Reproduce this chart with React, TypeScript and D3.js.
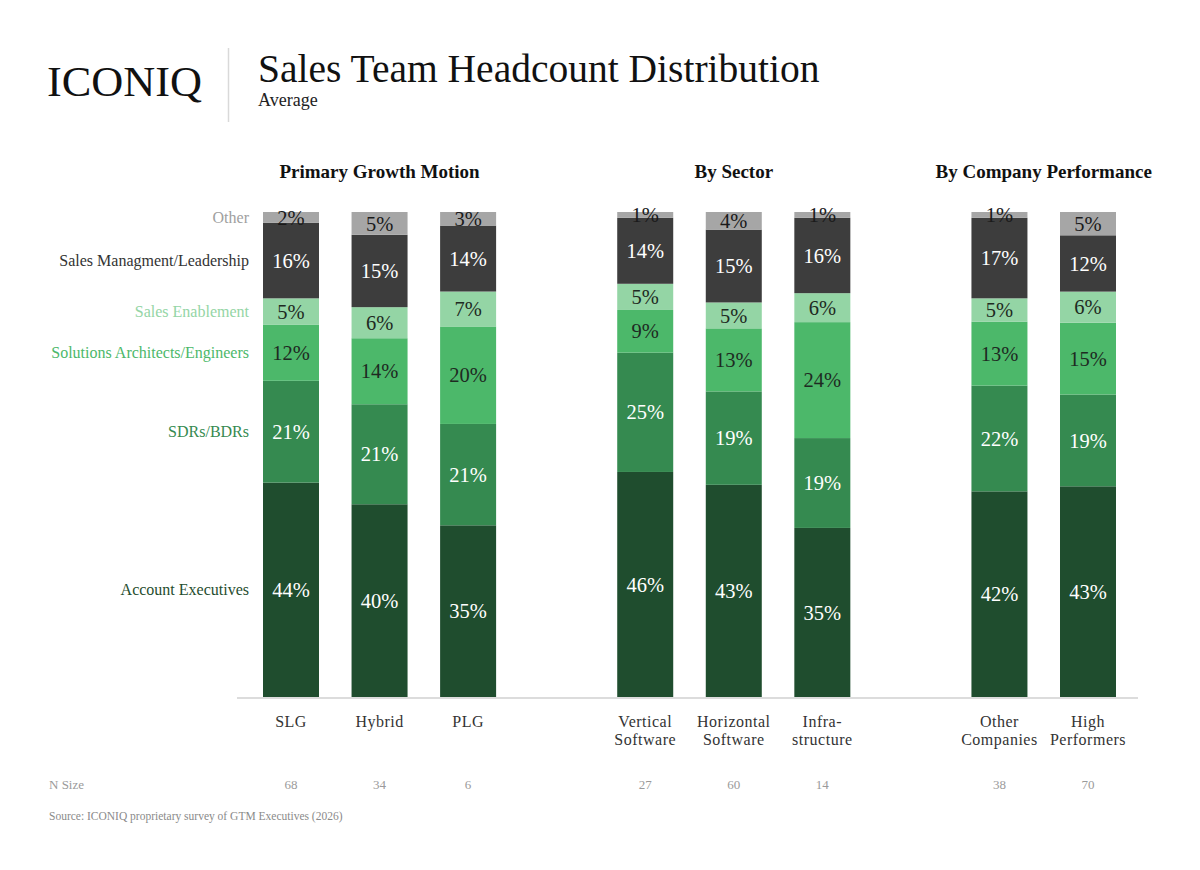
import * as d3 from 'd3';

const categories = ['SLG', 'Hybrid', 'PLG', 'Vertical Software', 'Horizontal Software', 'Infrastructure', 'Other Companies', 'High Performers'];
const xLabelLines = [['SLG'], ['Hybrid'], ['PLG'], ['Vertical', 'Software'], ['Horizontal', 'Software'], ['Infra-', 'structure'], ['Other', 'Companies'], ['High', 'Performers']];
const groupTitles = ['Primary Growth Motion', 'By Sector', 'By Company Performance'];
const groupOf = [0, 0, 0, 1, 1, 1, 2, 2];
const nSizes = [68, 34, 6, 27, 60, 14, 38, 70];

const roles = ['Account Executives', 'SDRs/BDRs', 'Solutions Architects/Engineers', 'Sales Enablement', 'Sales Managment/Leadership', 'Other'];
const accountExecutives = [44.2, 39.7, 35.4, 46.4, 43.4, 35.0, 42.4, 43.4];
const sdrs = [21.0, 20.6, 20.9, 24.6, 19.1, 18.6, 21.8, 18.9];
const solutions = [11.6, 13.6, 20.1, 8.8, 12.9, 24.0, 13.2, 14.8];
const enablement = [5.4, 6.4, 7.2, 5.4, 5.3, 6.0, 4.8, 6.4];
const management = [15.6, 14.9, 13.6, 13.6, 14.9, 15.6, 16.6, 11.6];
const other = [2.2, 4.7, 2.8, 1.2, 3.6, 1.2, 1.2, 4.8];

const seriesValues = [accountExecutives, sdrs, solutions, enablement, management, other];
const fills = ['#1f4d2e', '#358a50', '#4cb86a', '#94d5a5', '#3d3d3d', '#a6a6a6'];
const legendColors = ['#1f4d2e', '#358a50', '#4cb86a', '#94d5a5', '#333333', '#a0a0a0'];
const labelColors = ['#ffffff', '#ffffff', '#1e2a22', '#1e2a22', '#ffffff', '#1a1a1a'];

const SERIF = '"Liberation Serif", "DejaVu Serif", serif';

export default function App() {
  const width = 1200;
  const height = 870;
  const baseline = 697;
  const barWidth = 56;

  // 10 slots: 8 bars plus a spacer between each group
  const slots = ['SLG', 'Hybrid', 'PLG', 'gap1', 'Vertical Software', 'Horizontal Software', 'Infrastructure', 'gap2', 'Other Companies', 'High Performers'];
  const x = d3.scalePoint<string>().domain(slots).range([291, 1088]);
  const y = d3.scaleLinear().domain([0, 1]).range([baseline, 212]);

  const rows = categories.map((c, i) => {
    const row: Record<string, number | string> = { cat: c };
    roles.forEach((r, k) => { row[r] = seriesValues[k][i]; });
    return row;
  });
  const stacked = d3.stack<any>().keys(roles).offset(d3.stackOffsetExpand)(rows);

  const groupCenters = groupTitles.map((_, g) => {
    const xs = categories.filter((_, i) => groupOf[i] === g).map((c) => x(c)!);
    return d3.mean(xs)!;
  });

  return (
    <svg width={width} height={height} style={{ display: 'block', margin: -8 }} fontFamily={SERIF}>
      <rect width={width} height={height} fill="#ffffff" />

      {/* header */}
      <text x={47} y={96} fontSize={43} fill="#111" textLength={155} lengthAdjust="spacingAndGlyphs">ICONIQ</text>
      <line x1={228.5} x2={228.5} y1={48} y2={122} stroke="#d9d9d9" strokeWidth={1.5} />
      <text x={258} y={82} fontSize={39.5} fill="#111">Sales Team Headcount Distribution</text>
      <text x={258} y={106} fontSize={18} fill="#222">Average</text>

      {/* group titles */}
      {groupTitles.map((t, g) => (
        <text key={t} x={groupCenters[g]} y={178} textAnchor="middle" fontSize={19} fontWeight={600} fill="#111">{t}</text>
      ))}

      {/* bars */}
      {stacked.map((s, k) => (
        <g key={s.key}>
          {s.map((d, i) => {
            const cx = x(categories[i])!;
            const y0 = y(d[0]);
            const y1 = y(d[1]);
            return (
              <g key={categories[i]}>
                <rect x={cx - barWidth / 2} y={y1} width={barWidth} height={y0 - y1} fill={fills[k]} />
                <text x={cx} y={(y0 + y1) / 2} dy="0.35em" textAnchor="middle" fontSize={20.5} fill={labelColors[k]}>
                  {Math.round(seriesValues[k][i])}%
                </text>
              </g>
            );
          })}
        </g>
      ))}

      {/* baseline */}
      <line x1={237} x2={1138} y1={baseline + 1} y2={baseline + 1} stroke="#d0d0d0" strokeWidth={1.5} />

      {/* legend labels aligned to first bar's segments */}
      {stacked.map((s, k) => {
        const d = s[0];
        return (
          <text key={s.key} x={249} y={(y(d[0]) + y(d[1])) / 2} dy="0.35em" textAnchor="end" fontSize={16} fill={legendColors[k]}>
            {roles[k]}
          </text>
        );
      })}

      {/* x labels */}
      {categories.map((c, i) => (
        <text key={c} x={x(c)!} y={727} textAnchor="middle" fontSize={16} letterSpacing={0.5} fill="#333">
          {xLabelLines[i].map((line, j) => (
            <tspan key={j} x={x(c)!} dy={j === 0 ? 0 : 18}>{line}</tspan>
          ))}
        </text>
      ))}

      {/* N size */}
      <text x={49} y={789} fontSize={13} fill="#9a9a9a">N Size</text>
      {categories.map((c, i) => (
        <text key={c} x={x(c)!} y={789} textAnchor="middle" fontSize={13} fill="#9a9a9a">{nSizes[i]}</text>
      ))}

      <text x={49} y={820} fontSize={11.5} fill="#8a8a8a">Source: ICONIQ proprietary survey of GTM Executives (2026)</text>
    </svg>
  );
}
